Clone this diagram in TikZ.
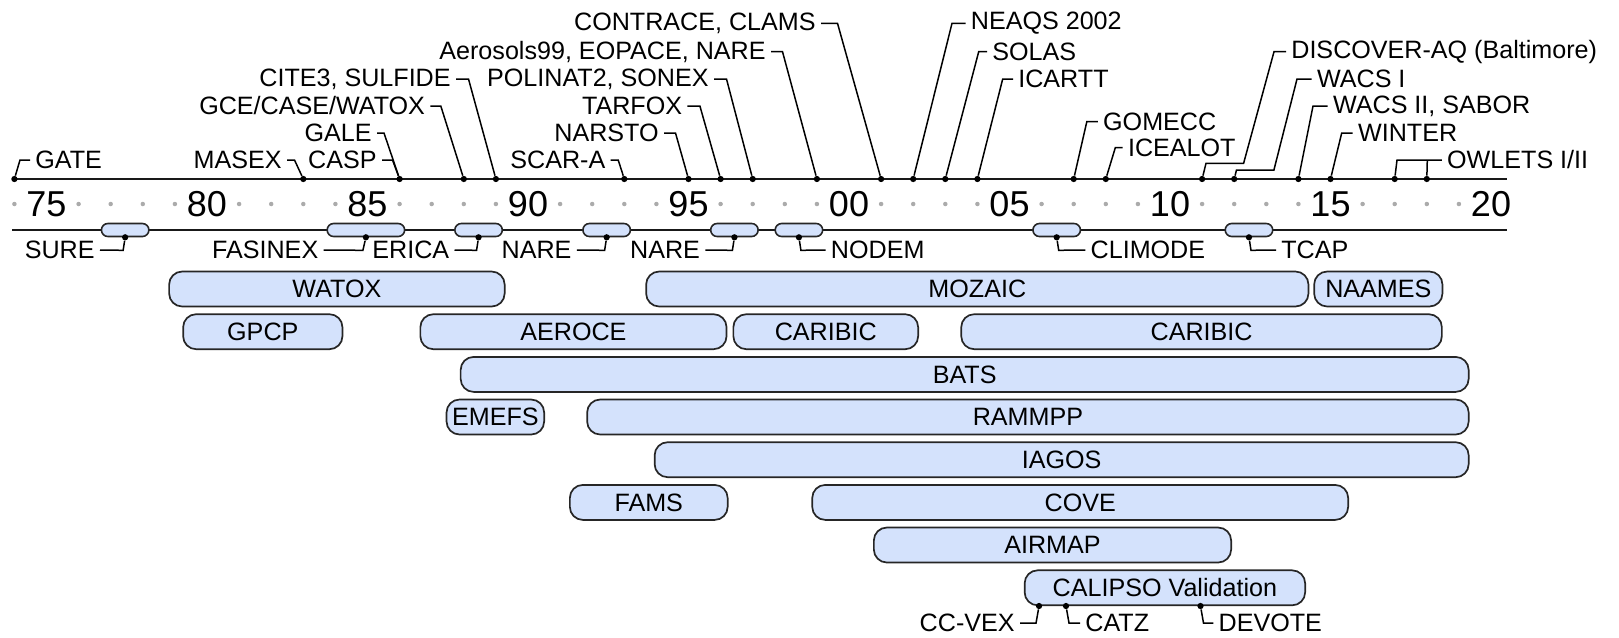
\documentclass[tikz,border=0pt]{standalone}
\usepackage{fontspec}
\setmainfont{Liberation Sans}
\newcommand{\yx}[1]{46.5+32.1*(#1-1975)}

\begin{document}
\begin{tikzpicture}[x=0.02cm, y=-0.02cm,
    lbl/.style={font=\fontsize{14.3}{16}\selectfont, inner xsep=0.1cm, inner ysep=0pt},
    yrlbl/.style={font=\fontsize{20.5}{22}\selectfont, inner sep=0pt},
    evdot/.style={circle, fill=black, inner sep=0pt, minimum size=0.125cm},
    tickdot/.style={circle, fill=black!33, inner sep=0pt, minimum size=0.09cm},
    axis/.style={line width=0.042cm, black!90},
    hook/.style={line width=0.03cm},
    pill/.style={draw=black!85, fill=campaign, line width=0.032cm, rounded corners=0.13cm,
                 minimum height=0.26cm, inner sep=0pt},
    bar/.style={draw=black!85, fill=campaign, line width=0.034cm, rounded corners=0.26cm,
                minimum height=0.7cm, inner sep=0pt, font=\fontsize{14.3}{16}\selectfont}]
    \definecolor{campaign}{RGB}{212,226,252}
    \useasboundingbox (0,0) rectangle (1619,637);

    % time axis
    \draw[axis] (14.4,179) -- (1507,179);
    \draw[axis] (12,230) -- (1507,230);
    \foreach \s [count=\i from 0] in {75,80,85,90,95,00,05,10,15,20}
        \node[yrlbl] (y\s) at ({46.5+160.5*\i},204) {\s};
    \node[tickdot] (g0-0) at (14.4,204) {};
    \foreach \d in {0,5,...,40}
        \foreach \k in {1,...,4}
            \node[tickdot] (g\d-\k) at ({46.5+32.1*(\d+\k)},204) {};

    % single events above the axis
    \foreach \yr in {1974,1983,1986,1988,1989,1993,1995,1996,1997,1999,2001,
                     2002,2003,2004,2007,2008,2011,2012,2014,2015,2017,2018}
        \node[evdot] (t\yr) at ({\yx{\yr}},179) {};

    % short campaigns on the lower axis
    \foreach \nm/\yr/\w in {sure/1977.45/0.95,fasinex/1984.95/1.55,erica/1988.46/0.95,
                            nare/1992.45/0.95,nareb/1996.43/0.95,nodem/1998.44/0.95,
                            climode/2006.47/0.95,tcap/2012.46/0.95}
    {
        \node[pill, minimum width=\w cm] (b-\nm) at ({\yx{\yr}},230) {};
        \node[evdot] (p-\nm) at (b-\nm.south) {};
    }

    % long-running programmes
    \foreach \nm/\a/\b/\y/\txt in {watox/168.3/505.5/289/WATOX,
                                   mozaic/645.3/1309.3/289/MOZAIC,
                                   naames/1313.3/1443.3/289/NAAMES,
                                   gpcp/182.3/343.3/331.7/GPCP,
                                   aeroce/419.5/727.4/331.7/AEROCE,
                                   caribic/732.5/919/331.7/CARIBIC,
                                   caribicb/960.4/1442.7/331.7/CARIBIC,
                                   bats/459.8/1469.5/374.4/BATS,
                                   emefs/445.7/545/417/EMEFS,
                                   rammpp/586.3/1469.5/417/RAMMPP,
                                   iagos/653.8/1469.5/459.7/IAGOS,
                                   fams/569/728.5/502.4/FAMS,
                                   cove/811.4/1349/502.4/COVE,
                                   airmap/873/1232/545/AIRMAP,
                                   calipso/1023.8/1306/587.8/CALIPSO Validation}
    {
        \pgfmathsetmacro\w{(\b-\a)*0.02-0.034}
        \node[bar, minimum width=\w cm] (\nm) at ({(\a+\b)/2},\y) {\txt};
    }
    \node[evdot] (p-ccvex) at ({\yx{2005.92}},606) {};
    \node[evdot] (p-catz) at ({\yx{2006.76}},606) {};
    \node[evdot] (p-devote) at ({\yx{2010.95}},606) {};

    % labels above the axis
    \node[lbl, anchor=east] (masex) at (287,160) {MASEX};
    \node[lbl, anchor=east] (gale) at (377,133) {GALE};
    \node[lbl, anchor=east] (casp) at (382,160) {CASP};
    \node[lbl, anchor=east] (gce) at (430.3,106) {GCE/CASE/WATOX};
    \node[lbl, anchor=east] (cite) at (456,79) {CITE3, SULFIDE};
    \node[lbl, anchor=east] (scara) at (610.7,160) {SCAR-A};
    \node[lbl, anchor=east] (narsto) at (664,133) {NARSTO};
    \node[lbl, anchor=east] (tarfox) at (687.4,106) {TARFOX};
    \node[lbl, anchor=east] (polinat) at (714,79) {POLINAT2, SONEX};
    \node[lbl, anchor=east] (aerosols) at (771,51.7) {Aerosols99, EOPACE, NARE};
    \node[lbl, anchor=east] (contrace) at (821,23.3) {CONTRACE, CLAMS};
    \node[lbl, anchor=west] (gate) at (30,160) {GATE};
    \node[lbl, anchor=west] (neaqs) at (965.5,23.3) {NEAQS 2002};
    \node[lbl, anchor=west] (solas) at (987,51.7) {SOLAS};
    \node[lbl, anchor=west] (icartt) at (1013,79) {ICARTT};
    \node[lbl, anchor=west] (gomecc) at (1097.8,121.7) {GOMECC};
    \node[lbl, anchor=west] (icealot) at (1122.7,147.7) {ICEALOT};
    \node[lbl, anchor=west] (discover) at (1286,51.7) {DISCOVER-AQ (Baltimore)};
    \node[lbl, anchor=west] (wacsa) at (1311.7,79) {WACS I};
    \node[lbl, anchor=west] (wacsb) at (1327.7,106) {WACS II, SABOR};
    \node[lbl, anchor=west] (winter) at (1352.7,133) {WINTER};
    \node[lbl, anchor=west] (owlets) at (1441.8,160) {OWLETS I/II};

    \draw[hook] (masex.east) -- ++(7.5,0) -- (t1983);
    \draw[hook] (gale.east) -- ++(7,0) -- (t1986);
    \draw[hook] (casp.east) -- ++(10.5,0) -- (t1986);
    \draw[hook] (gce.east) -- ++(10.5,0) -- (t1988);
    \draw[hook] (cite.east) -- ++(12.5,0) -- (t1989);
    \draw[hook] (scara.east) -- ++(7.5,0) -- (t1993);
    \draw[hook] (narsto.east) -- ++(11.5,0) -- (t1995);
    \draw[hook] (tarfox.east) -- ++(12.5,0) -- (t1996);
    \draw[hook] (polinat.east) -- ++(12.5,0) -- (t1997);
    \draw[hook] (aerosols.east) -- ++(11.5,0) -- (t1999);
    \draw[hook] (contrace.east) -- ++(16.5,0) -- (t2001);
    \draw[hook] (gate.west) -- ++(-10,0) -- (t1974);
    \draw[hook] (neaqs.west) -- ++(-13.5,0) -- (t2002);
    \draw[hook] (solas.west) -- ++(-8.3,0) -- (t2003);
    \draw[hook] (icartt.west) -- ++(-10.3,0) -- (t2004);
    \draw[hook] (gomecc.west) -- ++(-11,0) -- (t2007);
    \draw[hook] (icealot.west) -- ++(-7.4,0) -- (t2008);
    \draw[hook] (discover.west) -- ++(-12,0) -- ++(-30.4,111.6) -- ++(-37.6,0) -- (t2011);
    \draw[hook] (wacsa.west) -- ++(-14.7,0) -- ++(-23.1,91) -- ++(-37.4,0) -- (t2012);
    \draw[hook] (wacsb.west) -- ++(-14.7,0) -- (t2014);
    \draw[hook] (winter.west) -- ++(-11,0) -- (t2015);
    \draw[hook] (owlets.west) -- ++(-44.8,0) -- (t2017);
    \draw[hook] (t2018) -- ++(0.5,-19);

    % labels below the axis
    \node[lbl, anchor=east] (sure) at (100,250) {SURE};
    \node[lbl, anchor=east] (fasinex) at (323.6,250) {FASINEX};
    \node[lbl, anchor=east] (erica) at (454.5,250) {ERICA};
    \node[lbl, anchor=east] (nare) at (576.8,250) {NARE};
    \node[lbl, anchor=east] (nareb) at (705.3,250) {NARE};
    \node[lbl, anchor=west] (nodem) at (825.6,250) {NODEM};
    \node[lbl, anchor=west] (climode) at (1085.3,250) {CLIMODE};
    \node[lbl, anchor=west] (tcap) at (1276,250) {TCAP};
    \node[lbl, anchor=east] (ccvex) at (1020,623) {CC-VEX};
    \node[lbl, anchor=west] (catz) at (1080,623) {CATZ};
    \node[lbl, anchor=west] (devote) at (1213.3,623) {DEVOTE};

    \draw[hook] (p-sure) -- ++(-2,13) -- (sure.east);
    \draw[hook] (p-fasinex) -- ++(-3,13) -- (fasinex.east);
    \draw[hook] (p-erica) -- ++(-2,13) -- (erica.east);
    \draw[hook] (p-nare) -- ++(-2,13) -- (nare.east);
    \draw[hook] (p-nareb) -- ++(-2,13) -- (nareb.east);
    \draw[hook] (p-nodem) -- ++(2,13) -- (nodem.west);
    \draw[hook] (p-climode) -- ++(2,13) -- (climode.west);
    \draw[hook] (p-tcap) -- ++(2,13) -- (tcap.west);
    \draw[hook] (p-ccvex) -- ++(-3,17) -- (ccvex.east);
    \draw[hook] (p-catz) -- ++(3,17) -- (catz.west);
    \draw[hook] (p-devote) -- ++(3,17) -- (devote.west);
\end{tikzpicture}
\end{document}
